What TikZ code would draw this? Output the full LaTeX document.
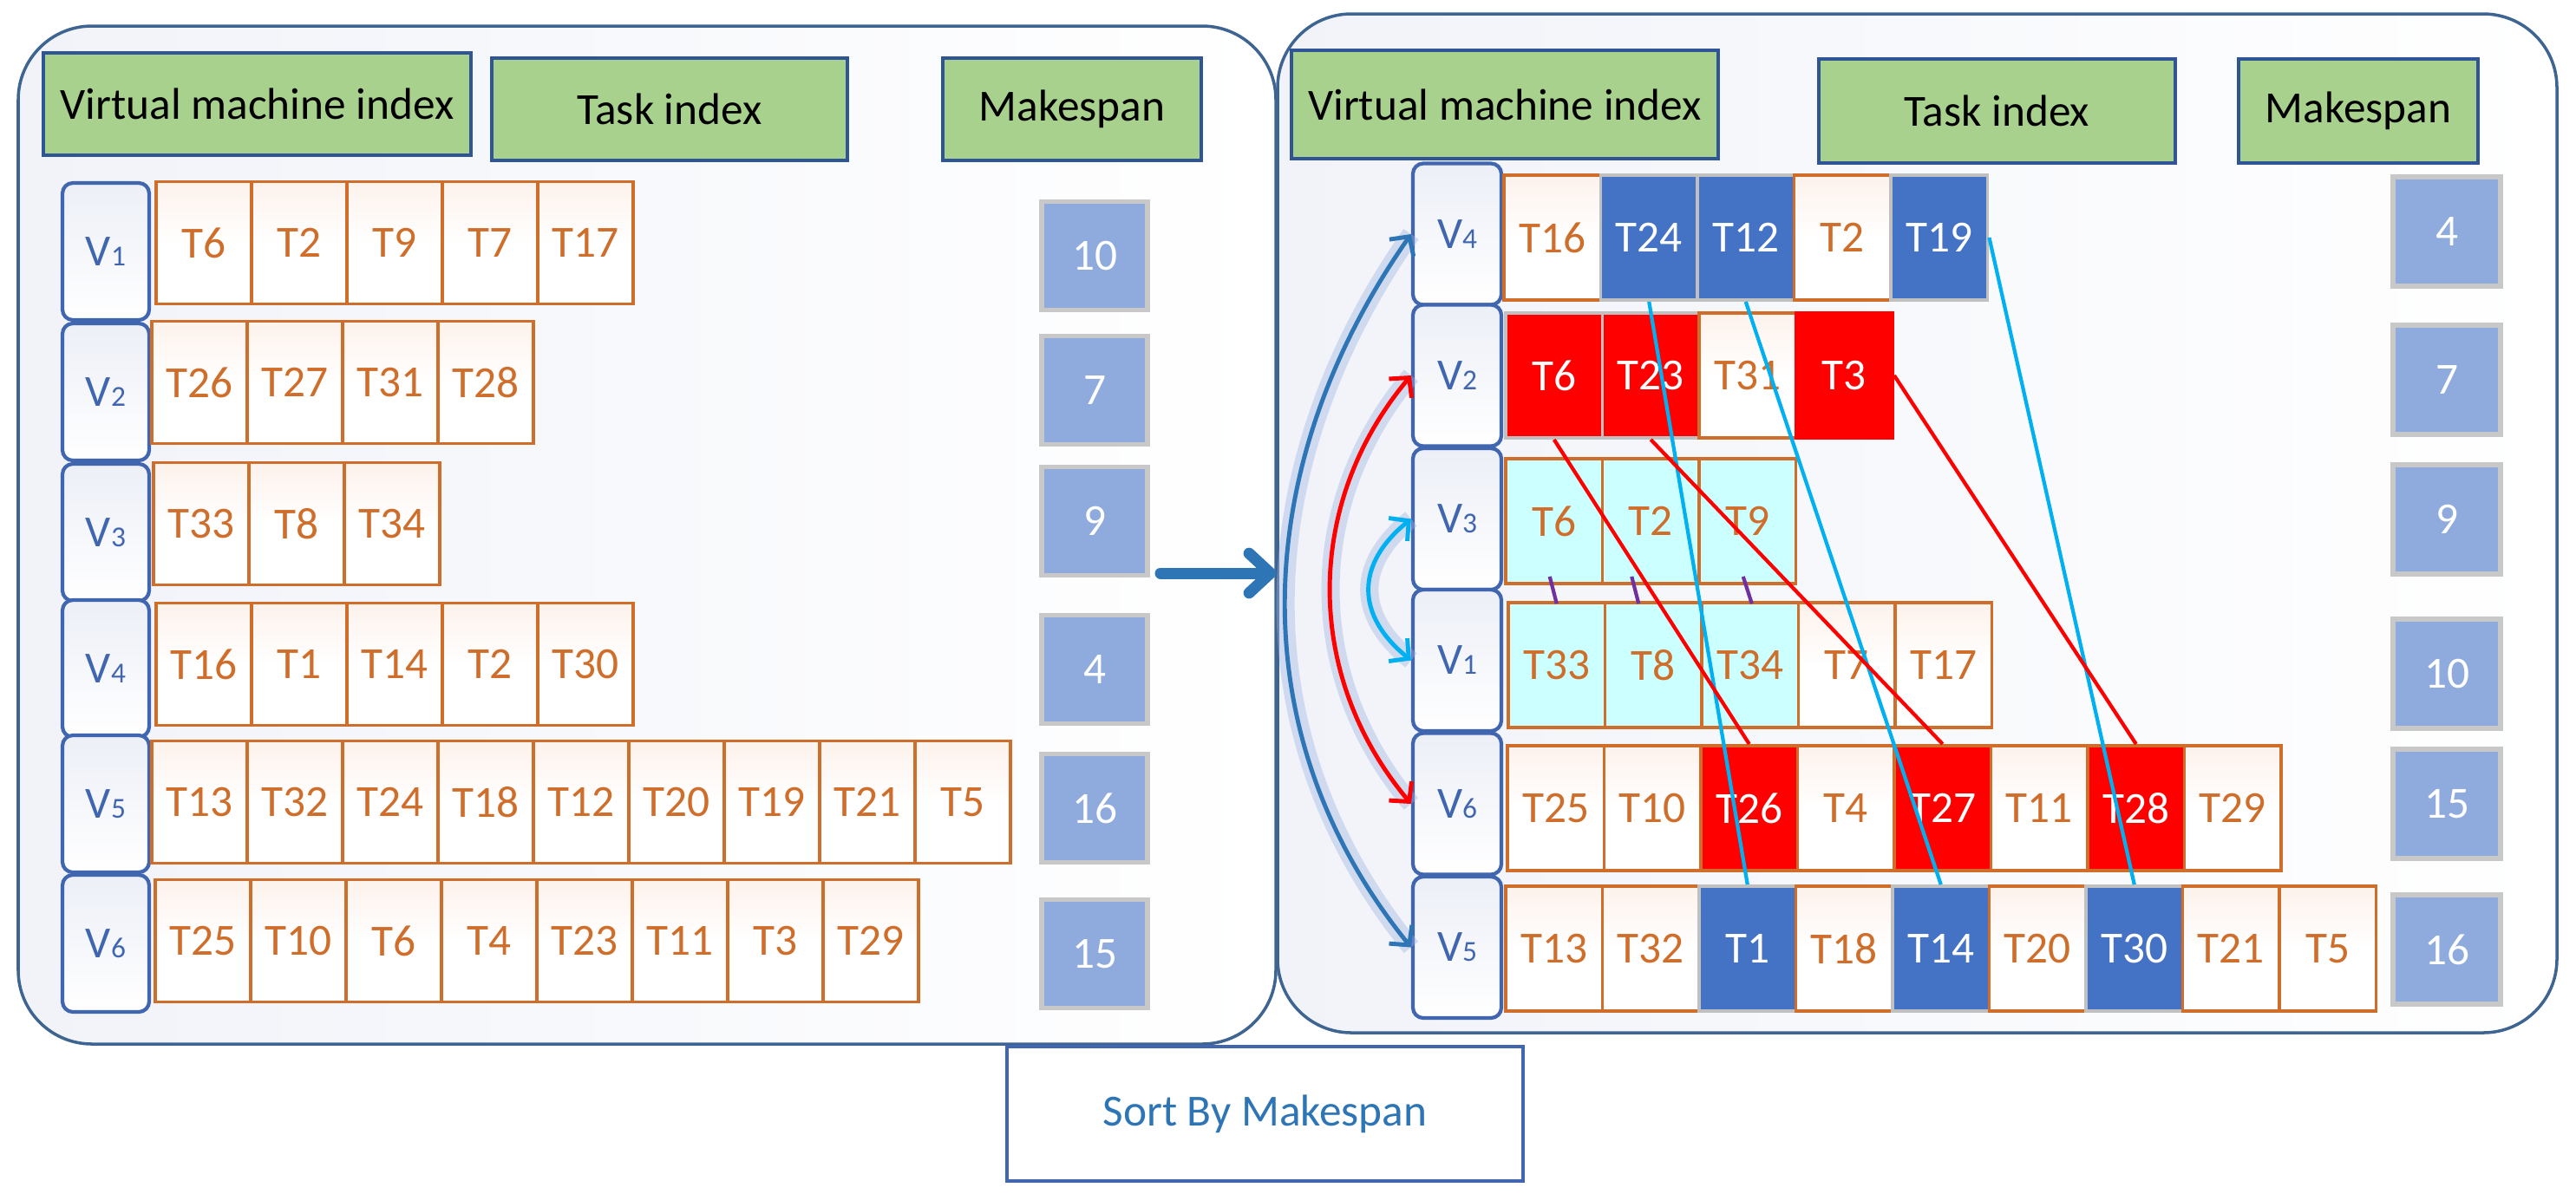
\documentclass[tikz,border=0pt]{standalone}
\usepackage{fontspec}
\setmainfont{Carlito}
\usetikzlibrary{arrows.meta}
\definecolor{panelline}{HTML}{3E6592}
\definecolor{panelfill}{HTML}{F1F3F9}
\definecolor{hdrfill}{HTML}{A9D18E}
\definecolor{hdrline}{HTML}{2F5597}
\definecolor{vmline}{HTML}{4166B0}
\definecolor{vmfill}{HTML}{ECEFF7}
\definecolor{taskline}{HTML}{CF6D2A}
\definecolor{taskfill}{HTML}{FDF2EC}
\definecolor{spanfill}{HTML}{8FAADC}
\definecolor{spanline}{HTML}{C8C8C8}
\definecolor{cellblue}{HTML}{4472C4}
\definecolor{cellgray}{HTML}{C0C0C0}
\definecolor{cellred}{HTML}{FF0000}
\definecolor{cellcyan}{HTML}{CCFFFF}
\definecolor{linecyan}{HTML}{00B0F0}
\definecolor{tickpurple}{HTML}{7030A0}
\definecolor{arrowblue}{HTML}{2E75B6}
\definecolor{haloblue}{HTML}{9DB3E0}
\newcommand{\vmlab}[1]{V{\fontsize{9.5}{10}\selectfont #1}}

\begin{document}
\begin{tikzpicture}[
  font=\fontsize{14.6}{17}\selectfont,
  panel/.style={draw=panelline, line width=1pt, rounded corners=0.85cm, left color=panelfill, right color=white, inner sep=0pt},
  hdr/.style={draw=hdrline, line width=1.1pt, fill=hdrfill, inner sep=0pt},
  vmbox/.style={draw=vmline, line width=1.2pt, rounded corners=0.12cm, top color=vmfill, bottom color=white, text=vmline, minimum width=1.0cm, inner sep=0pt},
  cell/.style={line width=1.1pt, minimum width=1.10cm, minimum height=1.41cm, inner sep=0pt},
  rcell/.style={minimum width=1.115cm, minimum height=1.44cm},
  task/.style={cell, draw=taskline, top color=taskfill, bottom color=white, middle color=white, text=taskline},
  cyantask/.style={cell, draw=taskline, fill=cellcyan, text=taskline},
  bluetask/.style={cell, draw=cellgray, fill=cellblue, text=white},
  redtask/.style={cell, draw=cellgray, fill=cellred, text=white},
  rednb/.style={cell, draw=cellred, fill=cellred, text=white},
  redotask/.style={cell, draw=taskline, fill=cellred, text=white},
  span/.style={draw=spanline, line width=1.5pt, fill=spanfill, text=white, minimum width=1.22cm, minimum height=1.25cm, inner sep=0pt},
  cyanline/.style={draw=linecyan, line width=1.2pt},
  redline/.style={draw=cellred, line width=1.2pt},
  arc/.style={line width=1.4pt, <->, >={Straight Barb[length=1.6mm,width=3.4mm]},
    preaction={draw=haloblue, line width=6pt, opacity=0.4, -}}
]
\useasboundingbox (0,0) rectangle (29.70,-13.76);
% panels
\node[panel, minimum width=14.50cm, minimum height=11.74cm] (lpanel) at (7.46,-6.17) {};
\node[panel, minimum width=14.75cm, minimum height=11.75cm] (rpanel) at (22.105,-6.035) {};
% headers, left
\node[hdr, minimum width=4.93cm, minimum height=1.18cm] (lvm) at (2.965,-1.20) {Virtual machine index};
\node[hdr, minimum width=4.10cm, minimum height=1.18cm] (ltask) at (7.72,-1.26) {Task index};
\node[hdr, minimum width=2.98cm, minimum height=1.18cm] (lspan) at (12.36,-1.26) {Makespan};
% headers, right
\node[hdr, minimum width=4.92cm, minimum height=1.25cm] (rvm) at (17.35,-1.205) {Virtual machine index};
\node[hdr, minimum width=4.11cm, minimum height=1.20cm] (rtask) at (23.025,-1.28) {Task index};
\node[hdr, minimum width=2.76cm, minimum height=1.20cm] (rspan) at (27.19,-1.28) {Makespan};
% virtual machines
\foreach \r/\y/\n in {1/2.90/1, 2/4.52/2, 3/6.14/3, 4/7.71/4, 5/9.27/5, 6/10.88/6}
  \node[vmbox, minimum height=1.58cm] (LV\r) at (1.22,-\y) {\vmlab{\n}};
\foreach \r/\y/\n in {1/2.70/4, 2/4.33/2, 3/5.985/3, 4/7.615/1, 5/9.27/6, 6/10.925/5}
  \node[vmbox, minimum width=1.02cm, minimum height=1.63cm] (RV\r) at (16.80,-\y) {\vmlab{\n}};
% tasks before sorting
\foreach \r/\y/\xo/\lst in {1/2.80/1.80/{T6,T2,T9,T7,T17}, 2/4.41/1.75/{T26,T27,T31,T28},
    3/6.04/1.77/{T33,T8,T34}, 4/7.66/1.80/{T16,T1,T14,T2,T30},
    5/9.25/1.75/{T13,T32,T24,T18,T12,T20,T19,T21,T5}, 6/10.85/1.79/{T25,T10,T6,T4,T23,T11,T3,T29}}
  \foreach \t [count=\i] in \lst
    \node[task] (L\r-\i) at ({\xo+(\i-0.5)*1.10},-\y) {\t};
% tasks after sorting
\foreach \r/\y/\xo/\lst in {1/2.74/17.34/{T16/task,T24/bluetask,T12/bluetask,T2/task,T19/bluetask},
    2/4.33/17.36/{T6/redtask,T23/redtask,T31/task,T3/rednb},
    3/6.01/17.36/{T6/cyantask,T2/cyantask,T9/cyantask},
    4/7.67/17.39/{T33/cyantask,T8/cyantask,T34/cyantask,T7/task,T17/task},
    5/9.32/17.38/{T25/task,T10/task,T26/redotask,T4/task,T27/redotask,T11/task,T28/redotask,T29/task},
    6/10.94/17.36/{T13/task,T32/task,T1/bluetask,T18/task,T14/bluetask,T20/task,T30/bluetask,T21/task,T5/task}}
  \foreach \t/\s [count=\i] in \lst
    \node[style=\s, rcell] (R\r-\i) at ({\xo+(\i-0.5)*1.115},-\y) {\t};
% makespans
\foreach \r/\y/\m in {1/2.95/10, 2/4.50/7, 3/6.01/9, 4/7.72/4, 5/9.32/16, 6/11.00/15}
  \node[span] (LM\r) at (12.62,-\y) {\m};
\foreach \r/\y/\m in {1/2.67/4, 2/4.38/7, 3/5.99/9, 4/7.77/10, 5/9.27/15, 6/10.95/16}
  \node[span, minimum width=1.24cm, minimum height=1.26cm] (RM\r) at (28.21,-\y) {\m};
% sort step
\coordinate (arrstart) at (13.38,-6.61);
\draw[arrowblue, line width=3.7pt, line cap=round, -{Straight Barb[length=7pt,width=13pt,round]}] (arrstart) -- (arrstart -| rpanel.west);
\node[draw=vmline, line width=1pt, fill=white, text=arrowblue, minimum width=5.95cm, minimum height=1.55cm] (sort) at (14.585,-12.845) {Sort By Makespan};
% swapped machines
\draw[arc, arrowblue] (RV6.west) to[out=129, in=235] (RV1.west);
\draw[arc, cellred] (RV5.west) to[out=130, in=230] (RV2.west);
\draw[arc, linecyan] (RV4.west) to[out=141, in=219, looseness=1.3] (RV3.west);
% moved tasks
\draw[cyanline] (R1-2.south) -- (R6-3.north);
\draw[cyanline] (R1-3.south) -- (R6-5.north);
\draw[cyanline] (R1-5.east) -- (R6-7.north);
\draw[redline] (R2-1.south) -- (R5-3.north);
\draw[redline] (R2-2.south) -- (R5-5.north);
\draw[redline] (R2-4.east) -- (R5-7.north);
\foreach \i/\a/\b in {1/-0.05/0.0, 2/-0.22/-0.17, 3/-0.05/0.02}
  \draw[tickpurple, line width=1.2pt] ([shift={(\a,0.10)}]R3-\i.south) -- ([shift={(\b,-0.03)}]R4-\i.north);
\end{tikzpicture}
\end{document}
